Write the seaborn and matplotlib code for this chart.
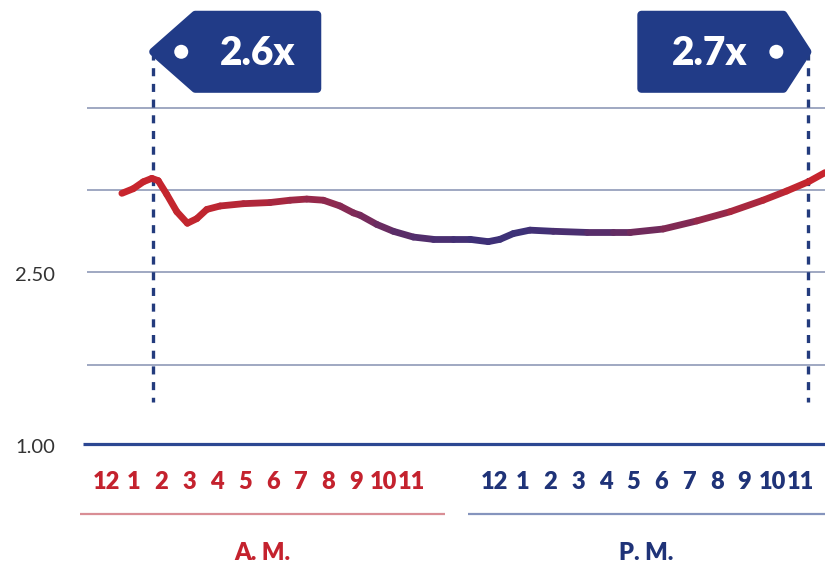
import numpy as np
import pandas as pd
import matplotlib
matplotlib.use("Agg")
import matplotlib.pyplot as plt
import matplotlib.transforms as mtransforms
import seaborn as sns
from matplotlib.colors import LinearSegmentedColormap
from matplotlib.patches import Polygon, Circle

# hour labels: a.m. block, a gap, then the p.m. block
am_hours = ["12", "1", "2", "3", "4", "5", "6", "7", "8", "9", "10", "11"]
pm_hours = ["12", "1", "2", "3", "4", "5", "6", "7", "8", "9", "10", "11"]
am_pos = list(range(0, 12))
pm_pos = list(range(14, 26))

# curve (x in hour positions)
line_x = [0.57, 0.98, 1.34, 1.65, 1.88, 2.19, 2.55, 2.93, 3.27, 3.63, 4.11,
          4.95, 5.91, 6.63, 7.23, 7.83, 8.43, 8.91, 9.15, 9.75, 10.35, 11.07,
          11.79, 12.51, 13.11, 13.77, 14.19, 14.67, 15.27, 16.11, 17.32, 18.28,
          18.88, 20.07, 21.28, 22.48, 23.67, 24.52, 25.30, 25.90]
line_y = [3.18, 3.22, 3.28, 3.31, 3.29, 3.17, 3.02, 2.92, 2.96, 3.04, 3.07,
          3.09, 3.10, 3.12, 3.13, 3.12, 3.07, 3.01, 2.99, 2.91, 2.85, 2.80,
          2.78, 2.78, 2.78, 2.76, 2.78, 2.83, 2.86, 2.85, 2.84, 2.84,
          2.84, 2.87, 2.94, 3.02, 3.12, 3.20, 3.28, 3.36]

grid_levels = [1.69, 2.50, 3.21, 3.92]
axis_labels = ["1.00", "2.50"]
axis_label_levels = [1.00, 2.50]

marker_x = [1.70, 25.30]
marker_text = ["2.6x", "2.7x"]

RED = "#C4222E"
NAVY = "#1F3378"
TAG = "#213B87"
GRID = "#8591B2"
BASE = "#2C4792"

sns.set_theme(style="white")
plt.rcParams["font.family"] = ["Lato", "DejaVu Sans"]
plt.rcParams["lines.scale_dashes"] = False

fig = plt.figure(figsize=(8.25, 5.65), dpi=100)
ax = fig.add_axes([0, 0, 1, 1])
ax.set_xlim(-3.82, 25.9)
ax.set_ylim(-0.05, 4.86)
ax.axis("off")

# horizontal guides
ax.hlines(grid_levels, -0.70, 25.9, color=GRID, lw=1.1, zorder=1)
ax.hlines(1.00, -0.83, 25.9, color=BASE, lw=2.3, zorder=1)
for lab, lev in zip(axis_labels, axis_label_levels):
    ax.text(-3.28, lev - 0.03, lab, ha="left", va="center", fontsize=14.5,
            color="#333333", fontweight="normal")

# gradient line: red -> blue-purple -> red, drawn as short seaborn segments
cmap = LinearSegmentedColormap.from_list(
    "tod", [(0.0, "#C9252D"), (0.12, "#C0262F"), (0.22, "#A8283F"),
            (0.31, "#8A2A52"), (0.40, "#5A2D68"), (0.50, "#3E3077"),
            (0.58, "#3D3177"), (0.66, "#4F2E6E"), (0.74, "#6D2B5E"),
            (0.82, "#8A2A50"), (0.89, "#A8283F"), (0.95, "#BF2631"),
            (1.0, "#C9252D")])
xmin, xmax = min(line_x), max(line_x)
rows, palette = [], []
for i in range(len(line_x) - 1):
    seg = f"s{i}"
    rows.append((seg, line_x[i], line_y[i]))
    rows.append((seg, line_x[i + 1], line_y[i + 1]))
    mid = (line_x[i] + line_x[i + 1]) / 2
    palette.append(cmap((mid - xmin) / (xmax - xmin)))
seg_df = pd.DataFrame(rows, columns=["seg", "x", "y"])
sns.lineplot(data=seg_df, x="x", y="y", hue="seg", palette=palette,
             legend=False, estimator=None, sort=False, lw=4.9,
             solid_capstyle="round", ax=ax, zorder=3)

# dashed markers and price tags
ident = mtransforms.IdentityTransform()
tag_y = 4.41
for mx, txt, side in zip(marker_x, marker_text, ["left", "right"]):
    ax.plot([mx, mx], [tag_y, 1.37], color="#233B7D", lw=2.4,
            ls=(0, (5.8, 5.5)), zorder=2)
    tx, ty = ax.transData.transform((mx, tag_y))
    p = 4
    if side == "left":
        tip = tx - 4
        verts = [(tip + p, ty), (tip + 46, ty + 41 - p), (tip + 172 - p, ty + 41 - p),
                 (tip + 172 - p, ty - 41 + p), (tip + 46, ty - 41 + p)]
        hole_x, text_x = tip + 32, tip + 108
    else:
        tip = tx + 3
        verts = [(tip - p, ty), (tip - 28, ty + 41 - p), (tip - 174 + p, ty + 41 - p),
                 (tip - 174 + p, ty - 41 + p), (tip - 28, ty - 41 + p)]
        hole_x, text_x = tip - 35, tip - 102
    ax.add_patch(Polygon(verts, closed=True, facecolor=TAG, edgecolor=TAG,
                         lw=5.8, joinstyle="round", transform=ident, zorder=4))
    ax.add_patch(Circle((hole_x, ty), 7, facecolor="white", edgecolor="none",
                        transform=ident, zorder=5))
    ax.text(text_x, ty - 13, txt, transform=ident, ha="center", va="baseline",
            fontsize=28, fontweight="heavy", color="white", zorder=6)

# hour labels
for pos, lab in zip(am_pos, am_hours):
    ax.text(pos, 0.672, lab, ha="center", va="center", fontsize=17,
            fontweight="heavy", color=RED)
for pos, lab in zip(pm_pos, pm_hours):
    ax.text(pos, 0.672, lab, ha="center", va="center", fontsize=17,
            fontweight="heavy", color=NAVY)

# a.m. / p.m. brackets
ax.hlines(0.391, -0.94, 12.21, color="#D98E95", lw=1.6)
ax.hlines(0.391, 13.04, 25.9, color="#8594BD", lw=1.6)
ax.text((-0.94 + 12.21) / 2, 0.05, "A. M.", ha="center", va="center",
        fontsize=17, fontweight="heavy", color=RED)
ax.text((13.04 + 25.9) / 2, 0.05, "P. M.", ha="center", va="center",
        fontsize=17, fontweight="heavy", color=NAVY)

fig.savefig("out.png", dpi=100)
